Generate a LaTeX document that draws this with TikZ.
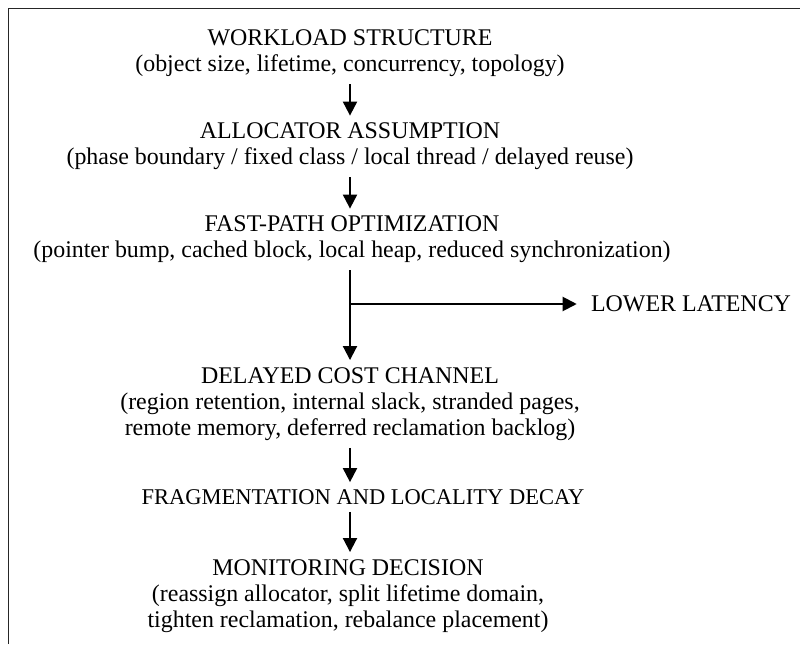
\documentclass[tikz,border=0pt]{standalone}
\usepackage{fontspec}
\setmainfont{Liberation Serif}
\usetikzlibrary{arrows.meta}
\usetikzlibrary{calc}

\begin{document}
\begin{tikzpicture}[>={Triangle[length=0.35cm,width=0.35cm]},x=0.025cm,y=-0.025cm,
    stage/.style={align=center,inner sep=2pt,font=\fontsize{17}{18.6}\selectfont},
    flow/.style={->,line width=1.4pt,shorten <=3pt,shorten >=3pt}]
                        \useasboundingbox (0,0) rectangle (800,644);
                        \draw[line width=1.4pt,black!85] (8.5,644) -- (8.5,8.5) -- (800,8.5);
                        \node[stage] (workload) at (350,53.5)
                            {WORKLOAD STRUCTURE\\(object size, lifetime, concurrency, topology)};
                        \node[stage] (assume) at (350,146.5)
                            {ALLOCATOR ASSUMPTION\\(phase boundary / fixed class / local thread / delayed reuse)};
                        \node[stage] (fastpath) at (352,239.5)
                            {FAST-PATH OPTIMIZATION\\(pointer bump, cached block, local heap, reduced synchronization)};
                        \node[stage] (latency) at (691,304) {LOWER LATENCY};
                        \node[stage] (delayed) at (350,404)
                            {DELAYED COST CHANNEL\\(region retention, internal slack, stranded pages,\\remote memory, deferred reclamation backlog)};
                        \node[stage,font=\fontsize{16}{18.6}\selectfont] (decay) at (363,497)
                            {FRAGMENTATION AND LOCALITY DECAY};
                        \node[stage] (monitor) at (348,596)
                            {MONITORING DECISION\\(reassign allocator, split lifetime domain,\\tighten reclamation, rebalance placement)};
                        \coordinate (split) at (delayed.north |- latency);
                        \draw[flow] (workload) -- (assume);
                        \draw[flow] (assume) -- (assume.south |- fastpath.north);
                        \draw[flow] (delayed.north |- fastpath.south) -- (delayed);
                        \draw[->,line width=1.4pt,shorten >=8pt] (split) -- (latency);
                        \draw[flow] (delayed) -- (delayed.south |- decay.north);
                        \draw[flow] (delayed.south |- decay.south) -- (delayed.south |- monitor.north);
                    \end{tikzpicture}
\end{document}
